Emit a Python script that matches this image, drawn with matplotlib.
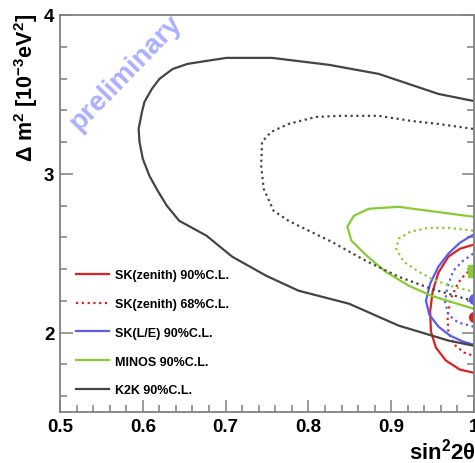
import matplotlib
matplotlib.use("Agg")
import matplotlib.pyplot as plt
from matplotlib.ticker import MultipleLocator

plt.rcParams['font.family'] = ['Liberation Sans', 'DejaVu Sans']
plt.rcParams['font.weight'] = 'bold'
plt.rcParams['mathtext.fontset'] = 'custom'
plt.rcParams['mathtext.rm'] = 'Liberation Sans:bold'
plt.rcParams['mathtext.it'] = 'Liberation Sans:bold'
plt.rcParams['mathtext.bf'] = 'Liberation Sans:bold'

# allowed regions (sin^2 2theta, dm^2 in 1e-3 eV^2), right half is cut at sin^2 2theta = 1
k2k90_x = [0.999, 0.957, 0.885, 0.825, 0.756, 0.701, 0.677, 0.654, 0.636, 0.620,
           0.611, 0.602, 0.599, 0.595, 0.596, 0.600, 0.608, 0.618, 0.629, 0.644,
           0.677, 0.708, 0.749, 0.788, 0.849, 0.909, 0.969, 0.999]
k2k90_y = [3.459, 3.503, 3.629, 3.686, 3.730, 3.730, 3.711, 3.692, 3.660, 3.597,
           3.535, 3.453, 3.390, 3.283, 3.201, 3.094, 2.987, 2.893, 2.799, 2.704,
           2.610, 2.478, 2.358, 2.264, 2.182, 2.044, 1.950, 1.918]

k2k68_x = [0.999, 0.957, 0.924, 0.885, 0.837, 0.809, 0.776, 0.755, 0.744, 0.743,
           0.746, 0.758, 0.776, 0.788, 0.828, 0.869, 0.909, 0.948, 0.989, 0.999]
k2k68_y = [3.283, 3.314, 3.333, 3.365, 3.365, 3.358, 3.314, 3.264, 3.201, 3.050,
           2.906, 2.767, 2.704, 2.673, 2.572, 2.453, 2.352, 2.277, 2.214, 2.201]

minos90_x = [0.999, 0.945, 0.909, 0.873, 0.855, 0.847, 0.852, 0.869, 0.893, 0.921,
             0.948, 0.975, 0.999]
minos90_y = [2.730, 2.767, 2.792, 2.780, 2.736, 2.667, 2.579, 2.491, 2.384, 2.296,
             2.233, 2.189, 2.151]

minos68_x = [0.999, 0.969, 0.945, 0.923, 0.909, 0.906, 0.915, 0.933, 0.951, 0.975, 0.999]
minos68_y = [2.642, 2.660, 2.660, 2.635, 2.591, 2.528, 2.447, 2.384, 2.333, 2.289, 2.258]

le90_x = [0.999, 0.983, 0.969, 0.957, 0.947, 0.942, 0.946, 0.957, 0.971, 0.987, 0.999]
le90_y = [2.616, 2.566, 2.497, 2.415, 2.308, 2.201, 2.113, 2.038, 1.981, 1.943, 1.925]

le68_x = [0.999, 0.987, 0.975, 0.968, 0.965, 0.969, 0.981, 0.999]
le68_y = [2.497, 2.453, 2.390, 2.289, 2.195, 2.113, 2.063, 2.038]

zen90_x = [0.999, 0.983, 0.969, 0.957, 0.950, 0.947, 0.948, 0.954, 0.966, 0.983, 0.999]
zen90_y = [2.553, 2.528, 2.478, 2.377, 2.258, 2.132, 2.006, 1.906, 1.824, 1.767, 1.748]

zen68_x = [0.999, 0.990, 0.981, 0.972, 0.968, 0.969, 0.976, 0.988, 0.999]
zen68_y = [2.403, 2.371, 2.314, 2.214, 2.107, 2.006, 1.925, 1.874, 1.855]

# best fit points
best_minos = (1.0, 2.39)
best_le = (1.0, 2.21)
best_zen = (1.0, 2.10)

RED = '#dd2020'
BLUE = '#5c5cee'
GREEN = '#88cc33'
GREY = '#444444'
dots = (0, (1, 1.6))

fig = plt.figure(figsize=(4.75, 4.64), dpi=100)
ax = fig.add_axes([60 / 475, 1 - 413 / 464, 414 / 475, 397 / 464])

kw = dict(lw=1.6, solid_joinstyle='round', dash_joinstyle='round')
l_zen90, = ax.plot(zen90_x, zen90_y, color=RED, label='SK(zenith) 90%C.L.', **kw)
l_zen68, = ax.plot(zen68_x, zen68_y, color=RED, ls=dots, label='SK(zenith) 68%C.L.', **kw)
l_le90, = ax.plot(le90_x, le90_y, color=BLUE, label='SK(L/E) 90%C.L.', **kw)
ax.plot(le68_x, le68_y, color=BLUE, ls=dots, **kw)
l_minos, = ax.plot(minos90_x, minos90_y, color=GREEN, label='MINOS 90%C.L.', **kw)
ax.plot(minos68_x, minos68_y, color=GREEN, ls=dots, **kw)
l_k2k, = ax.plot(k2k90_x, k2k90_y, color=GREY, label='K2K 90%C.L.', **kw)
ax.plot(k2k68_x, k2k68_y, color=GREY, ls=dots, **kw)

ax.plot(*best_minos, marker='s', ms=9, color=GREEN, ls='none')
ax.plot(*best_le, marker='o', ms=7, color=BLUE, ls='none')
ax.plot(*best_zen, marker='o', ms=7, color=RED, ls='none')

ax.set_xlim(0.5, 1.0)
ax.set_ylim(1.5, 4.0)
ax.xaxis.set_minor_locator(MultipleLocator(0.02))
ax.yaxis.set_minor_locator(MultipleLocator(0.2))
ax.set_xticks([0.5, 0.6, 0.7, 0.8, 0.9, 1.0])
ax.set_xticklabels(['0.5', '0.6', '0.7', '0.8', '0.9', '1'])
ax.set_yticks([2, 3, 4])
ax.set_yticklabels(['2', '3', '4'])

for s in ax.spines.values():
    s.set_color('#808080')
    s.set_linewidth(1.3)
ax.tick_params(which='both', direction='in', color='#808080', width=1.1,
               right=True, top=False, labelsize=13.5, pad=4)
ax.tick_params(which='major', length=9)
ax.tick_params(which='minor', length=5)
for lab in ax.get_xticklabels() + ax.get_yticklabels():
    lab.set_fontweight('bold')

fig.text(26 / 475, 1 - 14 / 464, r'$\Delta$ m$^2$ [10$^{-3}$eV$^2$]', rotation=90,
         ha='center', va='top', fontsize=15.5, fontweight='bold')
fig.text(409 / 475, 1 - 452 / 464, r'sin$^2$2$\theta$', ha='left', va='center',
         fontsize=16, fontweight='bold')

fig.text(126 / 475, 1 - 73 / 464, 'preliminary', rotation=46, ha='center',
         va='center', fontsize=20, fontweight='bold', color='#aab0ff')

ax.legend(handles=[l_zen90, l_zen68, l_le90, l_minos, l_k2k],
          loc='upper left', bbox_to_anchor=(76 / 475, 1 - 270 / 464),
          bbox_transform=fig.transFigure, frameon=False,
          prop={'size': 9, 'weight': 'bold'}, handlelength=2.6,
          handletextpad=0.5, labelspacing=1.35, borderpad=0, borderaxespad=0)

fig.savefig('out.png', dpi=100)
